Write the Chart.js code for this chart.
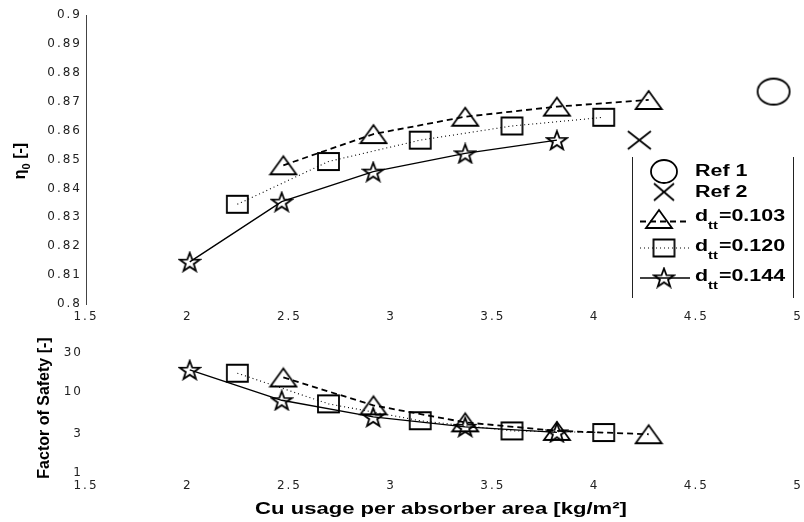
<!DOCTYPE html>
<html>
<head>
<meta charset="utf-8">
<script src="https://cdn.jsdelivr.net/npm/chart.js@4.4.1/dist/chart.umd.min.js"></script>
<style>
  html, body { margin: 0; padding: 0; background: #fff; }
  #wrap { position: relative; width: 804px; height: 522px; }
  canvas { position: absolute; left: 0; }
  #top { top: 0; }
  #bot { top: 330px; }
</style>
</head>
<body>
<div id="wrap">
  <canvas id="top" width="804" height="330"></canvas>
  <canvas id="bot" width="804" height="192"></canvas>
</div>
<script>
// tube diameters d_tt shown in the legend
const dtt = ["0.103", "0.120", "0.144"];

// Cu usage per absorber area [kg/m2]
const cu103 = [2.47, 2.913, 3.364, 3.815, 4.266];
const cu120 = [2.244, 2.692, 3.143, 3.594, 4.045];
const cu144 = [2.01, 2.462, 2.912, 3.364, 3.815];

// optical efficiency eta_0 [-]
const eta103 = [0.848, 0.8588, 0.8648, 0.8683, 0.8706];
const eta120 = [0.8345, 0.8493, 0.8567, 0.8616, 0.8646];
const eta144 = [0.8146, 0.8354, 0.8458, 0.8521, 0.8567];

// factor of safety [-]
const fos103 = [15.0, 6.8, 4.2, 3.3, 3.0];
const fos120 = [16.9, 7.1, 4.4, 3.3, 3.15];
const fos144 = [18.6, 7.85, 4.9, 3.7, 3.16];

// reference collectors
const refLabels = ["Ref 1", "Ref 2"];
const refCu = [4.88, 4.22];
const refEta = [0.8735, 0.8567];

// tick labels
const cuTicks = [1.5, 2, 2.5, 3, 3.5, 4, 4.5, 5];
const etaTicks = [0.8, 0.81, 0.82, 0.83, 0.84, 0.85, 0.86, 0.87, 0.88, 0.89, 0.9];
const fosTicks = [1, 3, 10, 30];

// hollow matlab-like markers
function marker(kind, w, h) {
  const c = document.createElement("canvas");
  c.width = w + 4; c.height = h + 4;
  const g = c.getContext("2d");
  g.strokeStyle = "#000";
  g.lineWidth = 1.8;
  const cx = c.width / 2, cy = c.height / 2;
  g.beginPath();
  if (kind === "tri") {
    g.moveTo(cx, cy - h / 2); g.lineTo(cx + w / 2, cy + h / 2); g.lineTo(cx - w / 2, cy + h / 2); g.closePath();
  } else if (kind === "sq") {
    g.rect(cx - w / 2, cy - h / 2, w, h);
  } else if (kind === "circ") {
    g.ellipse(cx, cy, w / 2, h / 2, 0, 0, Math.PI * 2);
  } else if (kind === "x") {
    g.moveTo(cx - w / 2, cy - h / 2); g.lineTo(cx + w / 2, cy + h / 2);
    g.moveTo(cx + w / 2, cy - h / 2); g.lineTo(cx - w / 2, cy + h / 2);
  } else if (kind === "star") {
    const rx = w / 1.9, ry = h / 1.81, oy = cy + ry * 0.095;
    for (let i = 0; i < 10; i++) {
      const r = i % 2 ? 0.4 : 1;
      const a = -Math.PI / 2 + i * Math.PI / 5;
      g.lineTo(cx + Math.cos(a) * r * rx, oy + Math.sin(a) * r * ry);
    }
    g.closePath();
  }
  g.stroke();
  return c;
}

const triM = marker("tri", 26, 18);
const sqM = marker("sq", 21, 17);
const starM = marker("star", 20, 18);
const circM = marker("circ", 32, 26);
const xM = marker("x", 23, 18);

function pts(xs, ys) { return xs.map((x, i) => ({ x: x, y: ys[i] })); }

function series(label, xs, ys, style, dash, width) {
  return {
    label: label,
    data: pts(xs, ys),
    showLine: true,
    borderColor: "#000",
    backgroundColor: "transparent",
    borderWidth: width,
    borderDash: dash,
    pointStyle: style,
    pointRadius: 10,
    clip: false
  };
}

// ticks get the wide, spaced look of the original
const spacing = {
  id: "spacing",
  beforeDraw(c) { c.ctx.letterSpacing = "2px"; },
  beforeDatasetsDraw(c) { c.ctx.letterSpacing = "0px"; }
};

const tickFont = { family: "DejaVu Sans", size: 12 };

function xScale(h) {
  return {
    type: "linear", min: 1.5, max: 5,
    afterBuildTicks: s => { s.ticks = cuTicks.map(v => ({ value: v })); },
    afterFit: s => { s.height = h; s.paddingLeft = 0; s.paddingRight = 0; },
    grid: { display: false, drawTicks: false },
    border: { display: false },
    ticks: { font: tickFont, color: "#222", padding: 6, maxRotation: 0, callback: v => String(v) }
  };
}

// draw stretched text (the source picture is wider than tall)
function wideText(ctx, str, x, y, font, sx) {
  ctx.save();
  ctx.translate(x, y);
  ctx.scale(sx, 1);
  ctx.font = font;
  ctx.fillText(str, 0, 0);
  const w = ctx.measureText(str).width * sx;
  ctx.restore();
  return w;
}

const topDecor = {
  id: "topDecor",
  afterDraw(chart) {
    const ctx = chart.ctx;
    ctx.save();
    ctx.letterSpacing = "0px";
    ctx.fillStyle = "#000";
    ctx.textBaseline = "middle";

    // y title: eta_0 [-]
    ctx.save();
    ctx.translate(21, 161);
    ctx.rotate(-Math.PI / 2);
    ctx.font = "bold 16px 'Liberation Sans', Arial";
    const wEta = ctx.measureText("\u03b7").width;
    ctx.font = "bold 11px 'Liberation Sans', Arial";
    const wSub = ctx.measureText("0").width;
    ctx.font = "bold 16px 'Liberation Sans', Arial";
    const wRest = ctx.measureText(" [-]").width;
    let x0 = -(wEta + wSub + wRest) / 2;
    ctx.fillText("\u03b7", x0, 0);
    ctx.font = "bold 11px 'Liberation Sans', Arial";
    ctx.fillText("0", x0 + wEta, 6);
    ctx.font = "bold 16px 'Liberation Sans', Arial";
    ctx.fillText(" [-]", x0 + wEta + wSub, 0);
    ctx.restore();

    // legend
    ctx.fillStyle = "#fff";
    ctx.fillRect(632, 157, 161, 141);
    ctx.strokeStyle = "#222";
    ctx.lineWidth = 1;
    ctx.beginPath();
    ctx.moveTo(632.5, 157); ctx.lineTo(632.5, 298);
    ctx.moveTo(793.5, 157); ctx.lineTo(793.5, 298);
    ctx.stroke();

    const ds = chart.data.datasets;
    const rows = [
      { d: ds[3], my: 171.5, ty: 171.5, legM: marker("circ", 26, 23) },
      { d: ds[4], my: 192, ty: 193, legM: marker("x", 20, 17) },
      { d: ds[0], my: 219, ty: 216.7, ly: 221.5, legM: triM },
      { d: ds[1], my: 248, ty: 246.7, ly: 248, legM: sqM },
      { d: ds[2], my: 277.5, ty: 276.7, ly: 278, legM: starM }
    ];
    ctx.fillStyle = "#000";
    rows.forEach(r => {
      if (r.d.showLine) {
        ctx.save();
        ctx.strokeStyle = "#000";
        ctx.lineWidth = r.d.borderWidth;
        ctx.setLineDash(r.d.borderDash || []);
        ctx.beginPath();
        ctx.moveTo(640, r.ly); ctx.lineTo(690, r.ly);
        ctx.stroke();
        ctx.restore();
      }
      const mx = r.legM === triM ? 659 : 664;
      ctx.drawImage(r.legM, mx - r.legM.width / 2, r.my - r.legM.height / 2);
      const lab = r.d.label;
      const bold = "bold 16px 'Liberation Sans', Arial";
      if (lab.indexOf("_") < 0) {
        wideText(ctx, lab, 695, r.ty, bold, 1.34);
      } else {
        const parts = lab.split("_tt");
        let x = 695;
        x += wideText(ctx, parts[0], x, r.ty, bold, 1.34);
        x += wideText(ctx, "tt", x, r.ty + 9, "bold 11px 'Liberation Sans', Arial", 1.34);
        wideText(ctx, parts[1], x + 1, r.ty, bold, 1.34);
      }
    });
    ctx.restore();
  }
};

const botDecor = {
  id: "botDecor",
  afterDraw(chart) {
    const ctx = chart.ctx;
    ctx.save();
    ctx.letterSpacing = "0px";
    ctx.fillStyle = "#000";
    ctx.textBaseline = "middle";
    ctx.textAlign = "center";
    ctx.save();
    ctx.translate(45, 78);
    ctx.rotate(-Math.PI / 2);
    ctx.font = "bold 16px 'Liberation Sans', Arial";
    ctx.fillText("Factor of Safety [-]", 0, 0);
    ctx.restore();

    ctx.save();
    ctx.translate(441, 180);
    ctx.scale(1.38, 1);
    ctx.font = "bold 16px 'Liberation Sans', Arial";
    ctx.fillText("Cu usage per absorber area [kg/m\u00b2]", 0, 0);
    ctx.restore();
    ctx.restore();
  }
};

const topChart = new Chart(document.getElementById("top"), {
  type: "scatter",
  data: {
    datasets: [
      series("d_tt=" + dtt[0], cu103, eta103, triM, [6, 4], 1.8),
      series("d_tt=" + dtt[1], cu120, eta120, sqM, [1, 3], 1.1),
      series("d_tt=" + dtt[2], cu144, eta144, starM, [], 1.4),
      { label: refLabels[0], data: [{ x: refCu[0], y: refEta[0] }], pointStyle: circM, pointRadius: 10, showLine: false, clip: false },
      { label: refLabels[1], data: [{ x: refCu[1], y: refEta[1] }], pointStyle: xM, pointRadius: 10, showLine: false, clip: false }
    ]
  },
  options: {
    responsive: false,
    animation: false,
    devicePixelRatio: 1,
    events: [],
    layout: { autoPadding: false, padding: { left: 0, right: 6, top: 15, bottom: 0 } },
    plugins: { legend: { display: false }, tooltip: { enabled: false } },
    scales: {
      x: xScale(26),
      y: {
        type: "linear", min: 0.8, max: 0.9,
        afterBuildTicks: s => { s.ticks = etaTicks.map(v => ({ value: v })); },
        afterFit: s => { s.width = 86; },
        grid: { display: false, drawTicks: false },
        border: { display: true, color: "#444", width: 1 },
        ticks: { font: tickFont, color: "#222", padding: 4, callback: v => String(v) }
      }
    }
  },
  plugins: [spacing, topDecor]
});

const botChart = new Chart(document.getElementById("bot"), {
  type: "scatter",
  data: {
    datasets: [
      series("d_tt=" + dtt[0], cu103, fos103, triM, [6, 4], 1.8),
      series("d_tt=" + dtt[1], cu120, fos120, sqM, [1, 3], 1.1),
      series("d_tt=" + dtt[2], cu144, fos144, starM, [], 1.4)
    ]
  },
  options: {
    responsive: false,
    animation: false,
    devicePixelRatio: 1,
    events: [],
    layout: { autoPadding: false, padding: { left: 0, right: 6, top: 23, bottom: 0 } },
    plugins: { legend: { display: false }, tooltip: { enabled: false } },
    scales: {
      x: xScale(49),
      y: {
        type: "logarithmic", min: 1, max: 30,
        afterBuildTicks: s => { s.ticks = fosTicks.map(v => ({ value: v })); },
        afterFit: s => { s.width = 86; },
        grid: { display: false, drawTicks: false },
        border: { display: false },
        ticks: { font: tickFont, color: "#222", padding: 3, callback: v => String(v) }
      }
    }
  },
  plugins: [spacing, botDecor]
});
</script>
</body>
</html>
